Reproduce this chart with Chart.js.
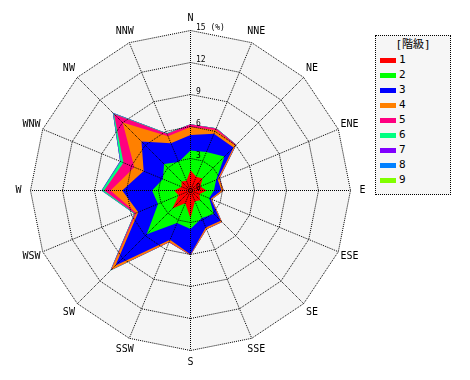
<!DOCTYPE html>
<html><head><meta charset="utf-8">
<script src="https://cdn.jsdelivr.net/npm/chart.js@4/dist/chart.umd.min.js"></script>
<style>
body{margin:0;background:#fff;}
#wrap{position:relative;width:470px;height:380px;overflow:hidden;}
#c{position:absolute;left:0;top:0;}
#legend{position:absolute;left:375px;top:35px;width:74px;height:158px;border:1px dotted #000;background:#f6f6f6;font-family:"DejaVu Sans Mono","Noto Sans CJK JP",monospace;font-size:10px;color:#000;}
#legend .title{position:absolute;left:0;width:74px;top:2px;text-align:center;font-size:11px;line-height:14px;}
#legend .sw{position:absolute;left:4px;width:16px;height:5px;}
#legend .lb{position:absolute;left:23px;line-height:12px;font-size:11px;}
</style></head>
<body><div id="wrap"><canvas id="c" width="470" height="380"></canvas><div id="legend"></div></div>
<script>
const directions = ['N','NNE','NE','ENE','E','ESE','SE','SSE','S','SSW','SW','WSW','W','WNW','NW','NNW'];
const classNames = ['1','2','3','4','5','6','7','8','9'];
const classColors = ['#ff0000','#00ff00','#0000ff','#ff8000','#ff0080','#00ff80','#8000ff','#0080ff','#80ff00'];
const legendTitle = '[階級]';
const tickValues = [0,3,6,9,12,15];
const tickLabels = ['0','3','6','9','12','15 (%)'];
// frequency (%) per wind-speed class, by direction
const class1 = [1.9,1.4,1.6,1.0,1.5,0.9,1.3,1.1,2.6,1.3,2.4,1.2,1.5,0.9,1.2,1.0];
const class2 = [1.85,2.5,2.9,1.6,0.7,1.0,1.8,1.7,1.0,2.0,3.4,2.1,2.1,1.9,2.3,1.9];
const class3 = [1.45,1.85,1.2,0.15,0.7,0.15,0.9,0.95,2.4,1.7,4.15,2.0,2.8,1.95,3.0,1.9];
const class4 = [0.75,0.4,0.27,0.15,0.2,0.1,0.15,0.15,0.05,0.2,0.55,0.2,1.1,0.95,2.5,0.7];
const class5 = [0.25,0.15,0.08,0.05,0.02,0.02,0.03,0.02,0.02,0.05,0.05,0.15,0.6,1.1,1.15,0.25];
const class6 = [0.02,0.02,0.02,0,0,0,0,0,0,0,0.05,0.05,0.2,0.3,0.1,0.05];
const class7 = [0,0,0,0,0,0,0,0,0,0,0.02,0,0.03,0.05,0.05,0];
const class8 = [0,0,0,0,0,0,0,0,0,0,0,0,0.02,0,0,0];
const class9 = [0,0,0,0,0,0,0,0,0,0,0,0,0,0,0,0];
const classes = [class1,class2,class3,class4,class5,class6,class7,class8,class9];

const CX = 190.5, CY = 190.5, R = 160, LABEL_R = 172;

// stacked (cumulative) values
const cumulative = [];
classes.forEach((arr, k) => {
  cumulative.push(arr.map((v, i) => v + (k ? cumulative[k-1][i] : 0)));
});

const datasets = classes.map((arr, k) => ({
  label: classNames[k],
  data: cumulative[k],
  backgroundColor: classColors[k],
  borderColor: classColors[k],
  borderWidth: 0,
  pointRadius: 0,
  fill: 'origin'
}));

const fixScale = {
  id: 'fixScale',
  afterLayout(chart) {
    const s = chart.scales.r;
    s.xCenter = CX; s.yCenter = CY; s.drawingArea = R;
  },
  beforeDatasetsDraw(chart) {
    const s = chart.scales.r, ctx = chart.ctx;
    const d = s.getDistanceFromCenterForValue(15);
    ctx.save();
    ctx.beginPath();
    directions.forEach((_, i) => {
      const p = s.getPointPosition(i, d);
      i ? ctx.lineTo(p.x, p.y) : ctx.moveTo(p.x, p.y);
    });
    ctx.closePath();
    ctx.fillStyle = '#f5f5f5';
    ctx.fill();
    ctx.restore();
  },
  afterDraw(chart) {
    const s = chart.scales.r, ctx = chart.ctx;
    ctx.save();
    ctx.fillStyle = '#000';
    ctx.font = '10px "DejaVu Sans Mono"';
    ctx.textAlign = 'center';
    ctx.textBaseline = 'middle';
    directions.forEach((d, i) => {
      const p = s.getPointPosition(i, LABEL_R);
      ctx.fillText(d, p.x, p.y);
    });
    ctx.font = '8px "DejaVu Sans Mono"';
    ctx.textAlign = 'left';
    ctx.textBaseline = 'bottom';
    tickValues.forEach((v, k) => {
      const y = s.yCenter - s.getDistanceFromCenterForValue(v);
      ctx.fillText(tickLabels[k], Math.round(s.xCenter + 5), Math.round(y + 1));
    });
    ctx.restore();
  }
};

new Chart(document.getElementById('c'), {
  type: 'radar',
  data: { labels: directions, datasets },
  options: {
    responsive: false, animation: false, devicePixelRatio: 1,
    plugins: { legend: { display: false }, tooltip: { enabled: false } },
    elements: { line: { tension: 0, borderWidth: 0 }, point: { radius: 0 } },
    scales: { r: {
      min: 0, max: 15,
      ticks: { stepSize: 3, display: false },
      pointLabels: { display: false },
      grid: { color: '#000', lineWidth: 1, z: 1 },
      border: { dash: [1, 1] },
      angleLines: { color: '#000', lineWidth: 1, borderDash: [1, 1], borderDashOffset: 0.5 }
    } }
  },
  plugins: [fixScale]
});

// legend
const lg = document.getElementById('legend');
const t = document.createElement('div'); t.className = 'title'; t.textContent = legendTitle; lg.appendChild(t);
classNames.forEach((n, k) => {
  const yc = 24 + 15 * k;
  const sw = document.createElement('div'); sw.className = 'sw';
  sw.style.top = (yc - 2.5) + 'px'; sw.style.background = classColors[k]; lg.appendChild(sw);
  const lb = document.createElement('div'); lb.className = 'lb';
  lb.style.top = (yc - 6) + 'px'; lb.textContent = n; lg.appendChild(lb);
});
</script></body></html>
